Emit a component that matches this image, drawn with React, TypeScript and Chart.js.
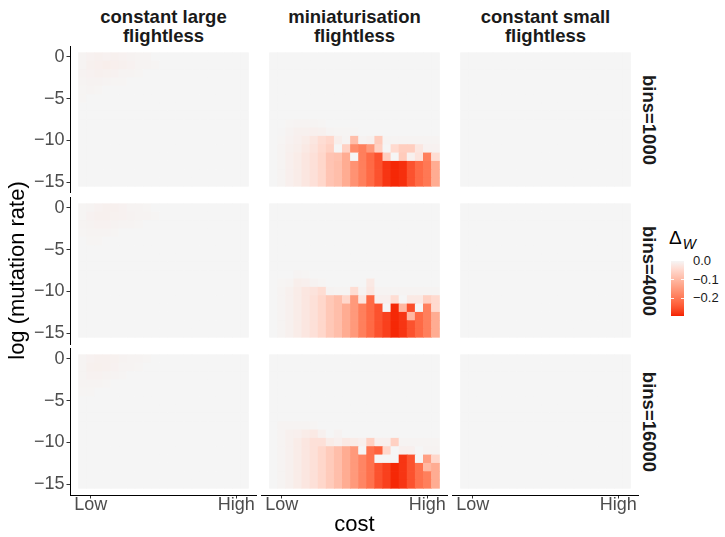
import React, { useEffect, useRef } from 'react';
import { Chart, registerables } from 'chart.js';

Chart.register(...registerables);

const FONT = '"Liberation Sans", Arial, Helvetica, sans-serif';

// ---------------- data ----------------
const costLevels = [1, 2, 3, 4, 5, 6, 7, 8, 9, 10, 11, 12, 13, 14, 15, 16, 17, 18, 19, 20, 21];
const costTickValues = [2, 20];
const costTickLabels = ['Low', 'High'];
const mutationRates = [-15, -14, -13, -12, -11, -10, -9, -8, -7, -6, -5, -4, -3, -2, -1, 0];
const mutationTicks = [0, -5, -10, -15];
const modelLabels = [
  ['constant large', 'flightless'],
  ['miniaturisation', 'flightless'],
  ['constant small', 'flightless'],
];
const binLabels = ['bins=1000', 'bins=4000', 'bins=16000'];
const fillLimits = [-0.295, 0];
const legendBreaks = [0, -0.1, -0.2];
const legendLabels = ['0.0', '\u22120.1', '\u22120.2'];

// Δw per cell; rows listed bottom-up starting at the given log mutation rate, cells Low→High cost
// constant large flightless
const largeBins1000Start = -5;
const largeBins1000 = [
  [-0.002],
  [-0.002, -0.003, -0.002],
  [-0.004, -0.005, -0.005, -0.003, -0.002, -0.002],
  [-0.005, -0.006, -0.008, -0.007, -0.006, -0.004, -0.003, -0.002],
  [-0.003, -0.008, -0.01, -0.012, -0.01, -0.008, -0.006, -0.004, -0.003, -0.002],
  [-0.004, -0.006, -0.008, -0.006, -0.008, -0.006, -0.005, -0.004, -0.003],
];
const largeBins4000Start = -4;
const largeBins4000 = [
  [0, -0.002, -0.002],
  [-0.002, -0.003, -0.004, -0.003, -0.002],
  [-0.003, -0.005, -0.006, -0.006, -0.005, -0.004, -0.003, -0.002],
  [-0.002, -0.006, -0.008, -0.008, -0.007, -0.006, -0.005, -0.004, -0.003, -0.002],
  [-0.002, -0.004, -0.006, -0.008, -0.008, -0.006, -0.004, -0.003, -0.002],
];
const largeBins16000Start = -4;
const largeBins16000 = [
  [-0.002, -0.002],
  [-0.003, -0.004, -0.003, -0.002],
  [-0.004, -0.006, -0.006, -0.005, -0.004, -0.002],
  [-0.004, -0.008, -0.009, -0.008, -0.006, -0.004, -0.003, -0.002],
  [-0.003, -0.006, -0.008, -0.008, -0.007, -0.005, -0.004, -0.003, -0.002],
];

// miniaturisation flightless
const miniBins1000Start = -15;
const miniBins1000 = [
  [0, -0.003, -0.01, -0.015, -0.025, -0.035, -0.05, -0.08, -0.09, -0.12, -0.16, -0.19, -0.22, -0.25, -0.28, -0.29, -0.285, -0.25, -0.22, -0.2, -0.12],
  [0, -0.003, -0.01, -0.015, -0.025, -0.035, -0.05, -0.08, -0.09, -0.12, -0.16, -0.19, -0.22, -0.25, -0.28, -0.29, -0.285, -0.25, -0.22, -0.2, -0.12],
  [0, -0.003, -0.01, -0.015, -0.025, -0.035, -0.05, -0.08, -0.09, -0.12, -0.16, -0.19, -0.22, -0.25, -0.28, -0.29, -0.285, -0.25, -0.22, -0.2, -0.12],
  [0, -0.003, -0.01, -0.015, -0.025, -0.035, -0.05, -0.08, -0.085, -0.12, 0, -0.19, -0.22, -0.25, -0.065, 0, -0.07, -0.008, -0.03, -0.19, -0.04],
  [0, -0.003, -0.008, -0.012, -0.02, -0.03, -0.045, -0.06, 0, -0.06, -0.17, -0.19, -0.15, -0.06, 0, -0.045, -0.065, -0.065, -0.025, -0.006, -0.006],
  [0, -0.002, -0.006, -0.01, -0.015, -0.025, -0.04, -0.05, -0.012, -0.004, -0.09, -0.005, -0.008, -0.07, -0.004, -0.003, -0.003, -0.003, -0.003, -0.003, -0.003],
  [0, -0.001, -0.005, -0.008, -0.008, -0.01, -0.008, -0.004, -0.002, -0.002, -0.002],
  [0, 0, -0.002, -0.003, -0.003, -0.003, -0.002],
];
const miniBins4000Start = -15;
const miniBins4000 = [
  [0, -0.003, -0.008, -0.015, -0.025, -0.035, -0.05, -0.075, -0.09, -0.12, -0.15, -0.19, -0.22, -0.25, -0.27, -0.29, -0.28, -0.25, -0.22, -0.19, -0.12],
  [0, -0.003, -0.008, -0.015, -0.025, -0.035, -0.05, -0.075, -0.09, -0.12, -0.15, -0.19, -0.22, -0.25, -0.27, -0.29, -0.28, -0.25, -0.22, -0.19, -0.12],
  [0, -0.003, -0.008, -0.015, -0.025, -0.035, -0.05, -0.075, -0.09, -0.12, -0.15, -0.19, -0.22, -0.25, -0.27, -0.29, -0.28, -0.1, -0.22, -0.19, -0.12],
  [0, -0.003, -0.008, -0.015, -0.025, -0.035, -0.05, -0.075, -0.09, -0.12, -0.15, -0.19, -0.22, -0.25, 0, -0.29, -0.1, -0.255, 0, -0.19, -0.045],
  [0, -0.003, -0.008, -0.015, -0.025, -0.035, -0.05, -0.075, -0.09, -0.05, -0.15, -0.025, -0.22, -0.01, -0.01, -0.04, 0, -0.02, -0.02, -0.06, -0.045],
  [0, -0.003, -0.008, -0.015, -0.025, -0.03, -0.04, -0.005, -0.003, -0.003, -0.04, -0.005, -0.025, -0.003, -0.003, -0.003, -0.003, -0.003, -0.003, -0.003, -0.003],
  [0, -0.002, -0.004, -0.012, -0.01, -0.005, -0.002, 0, 0, 0, 0, 0, -0.02],
  [0, 0, 0, -0.003, -0.002],
];
const miniBins16000Start = -15;
const miniBins16000 = [
  [0, -0.003, -0.008, -0.015, -0.025, -0.035, -0.05, -0.07, -0.09, -0.12, -0.15, -0.18, -0.21, -0.25, -0.27, -0.29, -0.28, -0.25, -0.21, -0.19, -0.12],
  [0, -0.003, -0.008, -0.015, -0.025, -0.035, -0.05, -0.07, -0.09, -0.12, -0.15, -0.18, -0.21, -0.25, -0.27, -0.29, -0.28, -0.25, -0.21, -0.19, -0.12],
  [0, -0.003, -0.008, -0.015, -0.025, -0.035, -0.05, -0.07, -0.09, -0.12, -0.15, -0.18, -0.21, -0.25, -0.27, -0.29, -0.28, -0.25, -0.21, -0.1, -0.12],
  [0, -0.003, -0.008, -0.015, -0.025, -0.035, -0.05, -0.07, -0.09, -0.12, -0.15, -0.18, -0.21, 0, 0, 0, -0.28, -0.25, 0, -0.14, -0.05],
  [0, -0.003, -0.008, -0.015, -0.025, -0.035, -0.05, -0.07, -0.09, -0.12, -0.15, 0, -0.21, -0.23, -0.05, 0, -0.01, -0.01, 0, -0.005, -0.005],
  [0, -0.003, -0.008, -0.015, -0.025, -0.035, -0.035, -0.015, -0.01, -0.02, -0.015, -0.01, -0.06, -0.01, -0.01, -0.06, -0.003, -0.003, -0.003, -0.003, -0.003],
  [0, -0.003, -0.008, -0.01, -0.015, -0.02, -0.008, 0, -0.005],
  [0, -0.003, -0.004, -0.003, -0.003, -0.002],
];

// constant small flightless (no change)
const smallBins1000Start = 0;
const smallBins1000: number[][] = [];
const smallBins4000Start = 0;
const smallBins4000: number[][] = [];
const smallBins16000Start = 0;
const smallBins16000: number[][] = [];

// ---------------- helpers ----------------
function buildGrid(start: number, rows: number[][]): number[][] {
  return mutationRates.map((m) => {
    const row = rows[m - start] || [];
    return costLevels.map((_, ci) => (row[ci] === undefined ? 0 : row[ci]));
  });
}

const panelGrids = [
  [buildGrid(largeBins1000Start, largeBins1000), buildGrid(miniBins1000Start, miniBins1000), buildGrid(smallBins1000Start, smallBins1000)],
  [buildGrid(largeBins4000Start, largeBins4000), buildGrid(miniBins4000Start, miniBins4000), buildGrid(smallBins4000Start, smallBins4000)],
  [buildGrid(largeBins16000Start, largeBins16000), buildGrid(miniBins16000Start, miniBins16000), buildGrid(smallBins16000Start, smallBins16000)],
];

const HIGH_COLOR = [245, 245, 245];
const LOW_COLOR = [244, 32, 0];

function toLin(c: number) {
  c /= 255;
  return c <= 0.04045 ? c / 12.92 : Math.pow((c + 0.055) / 1.055, 2.4);
}
function fromLin(c: number) {
  const v = c <= 0.0031308 ? 12.92 * c : 1.055 * Math.pow(c, 1 / 2.4) - 0.055;
  return Math.round(Math.max(0, Math.min(1, v)) * 255);
}
function rgbToLab(rgb: number[]) {
  const R = toLin(rgb[0]), G = toLin(rgb[1]), B = toLin(rgb[2]);
  const X = (0.4124 * R + 0.3576 * G + 0.1805 * B) / 0.95047;
  const Y = 0.2126 * R + 0.7152 * G + 0.0722 * B;
  const Z = (0.0193 * R + 0.1192 * G + 0.9505 * B) / 1.08883;
  const f = (t: number) => (t > 0.008856 ? Math.cbrt(t) : 7.787 * t + 16 / 116);
  const fx = f(X), fy = f(Y), fz = f(Z);
  return [116 * fy - 16, 500 * (fx - fy), 200 * (fy - fz)];
}
function labToRgb(lab: number[]) {
  const fy = (lab[0] + 16) / 116;
  const fx = fy + lab[1] / 500;
  const fz = fy - lab[2] / 200;
  const inv = (t: number) => (t * t * t > 0.008856 ? t * t * t : (t - 16 / 116) / 7.787);
  const X = inv(fx) * 0.95047, Y = inv(fy), Z = inv(fz) * 1.08883;
  const R = 3.2406 * X - 1.5372 * Y - 0.4986 * Z;
  const G = -0.9689 * X + 1.8758 * Y + 0.0415 * Z;
  const B = 0.0557 * X - 0.204 * Y + 1.057 * Z;
  return [fromLin(R), fromLin(G), fromLin(B)];
}
const HIGH_LAB = rgbToLab(HIGH_COLOR);
const LOW_LAB = rgbToLab(LOW_COLOR);
function fillColor(v: number) {
  let t = (fillLimits[1] - v) / (fillLimits[1] - fillLimits[0]);
  t = Math.max(0, Math.min(1, t));
  const lab = HIGH_LAB.map((h, i) => h + (LOW_LAB[i] - h) * t);
  const c = labToRgb(lab);
  return `rgb(${c[0]},${c[1]},${c[2]})`;
}

// ---------------- layout ----------------
const panelLefts = [70, 261, 452];
const panelWidth = 187;
const panelTops = [46, 197, 348];
const panelHeight = 147;
const pageHeight = 537;

function fmtMinus(v: number) {
  return v < 0 ? '\u2212' + Math.abs(v) : String(v);
}

function Panel({ row, col }: { row: number; col: number }) {
  const ref = useRef<HTMLCanvasElement>(null);
  const isLeft = col === 0;
  const isBottom = row === 2;
  const hasYTitle = isLeft && row === 1;
  const ext = hasYTitle ? 60 : 0; // extra room so the long y title is not clipped
  const left = isLeft ? 0 : panelLefts[col];
  const width = panelLefts[col] + panelWidth - left;
  const top = panelTops[row] - ext;
  const xAxisHeight = isBottom ? pageHeight - (panelTops[2] + panelHeight) : 0;
  const height = panelHeight + xAxisHeight + 2 * ext;
  const yAxisWidth = isLeft ? panelLefts[0] : 0;

  useEffect(() => {
    const grid = panelGrids[row][col];
    const datasets = mutationRates.map((m, ri) => ({
      label: 'log mutation rate ' + m,
      data: costLevels.map((c) => ({ x: c, y: [m - 0.5, m + 0.5] })),
      backgroundColor: costLevels.map((_, ci) => fillColor(grid[ri][ci])),
      borderWidth: 0,
      grouped: false,
      barPercentage: 1,
      categoryPercentage: 1,
    }));
    const chart = new Chart(ref.current as HTMLCanvasElement, {
      type: 'bar',
      data: { datasets: datasets as any },
      options: {
        responsive: false,
        maintainAspectRatio: false,
        animation: false,
        devicePixelRatio: 1,
        layout: { padding: { top: ext, bottom: ext, left: 0, right: 0 } },
        plugins: { legend: { display: false }, tooltip: { enabled: false }, title: { display: false } },
        scales: {
          x: {
            type: 'linear',
            min: -0.55,
            max: 22.55,
            offset: false,
            display: isBottom,
            afterBuildTicks: (s: any) => {
              s.ticks = costTickValues.map((v) => ({ value: v }));
            },
            afterFit: (s: any) => {
              s.height = xAxisHeight;
              s.paddingLeft = 0;
              s.paddingRight = 0;
            },
            grid: { display: true, offset: false, drawOnChartArea: false, drawTicks: true, tickLength: 3.5, color: '#333333', lineWidth: 1 },
            border: { display: true, color: '#000000', width: 1 },
            ticks: {
              autoSkip: false,
              maxRotation: 0,
              minRotation: 0,
              padding: -4,
              color: '#4D4D4D',
              font: { family: FONT, size: 18 },
              callback: (v: any) => {
                const i = costTickValues.indexOf(Number(v));
                return i >= 0 ? costTickLabels[i] : '';
              },
            },
            title: {
              display: isBottom && col === 1,
              text: 'cost',
              color: '#000000',
              font: { family: FONT, size: 22, lineHeight: 1.14 },
              padding: { top: 0, bottom: 0 },
            },
          },
          y: {
            type: 'linear',
            min: -16.3,
            max: 1.3,
            display: isLeft,
            afterBuildTicks: (s: any) => {
              s.ticks = mutationTicks.map((v) => ({ value: v }));
            },
            afterFit: (s: any) => {
              s.width = yAxisWidth;
              s.paddingTop = 0;
              s.paddingBottom = 0;
            },
            grid: { display: true, offset: false, drawOnChartArea: false, drawTicks: true, tickLength: 3.5, color: '#333333', lineWidth: 1 },
            border: { display: true, color: '#000000', width: 1 },
            ticks: {
              padding: 2,
              color: '#4D4D4D',
              font: { family: FONT, size: 18 },
              callback: (v: any) => fmtMinus(Number(v)),
            },
            title: {
              display: hasYTitle,
              text: 'log (mutation rate)',
              color: '#000000',
              font: { family: FONT, size: 22, lineHeight: 1.14 },
              padding: { top: 5.5, bottom: 0 },
            },
          },
        },
      } as any,
    });
    return () => chart.destroy();
  }, [row, col]);

  return (
    <canvas
      ref={ref}
      width={width}
      height={height}
      style={{ position: 'absolute', left, top, width, height, display: 'block' }}
    />
  );
}

function Legend() {
  const barLeft = 671;
  const barTop = 261;
  const barW = 13;
  const barH = 55;
  const stops: string[] = [];
  for (let i = 0; i <= 20; i++) {
    const v = fillLimits[1] - ((fillLimits[1] - fillLimits[0]) * i) / 20;
    stops.push(`${fillColor(v)} ${(i / 20) * 100}%`);
  }
  const yFor = (v: number) => barTop + ((fillLimits[1] - v) / (fillLimits[1] - fillLimits[0])) * barH;
  return (
    <>
      <div
        style={{
          position: 'absolute',
          left: 669,
          top: 228,
          fontFamily: FONT,
          fontSize: 19,
          lineHeight: '19px',
          color: '#000',
          whiteSpace: 'nowrap',
        }}
      >
        {'\u0394'}
        <span style={{ fontStyle: 'italic', fontSize: 14, position: 'relative', top: 5, marginLeft: 1 }}>W</span>
      </div>
      <div
        style={{
          position: 'absolute',
          left: barLeft,
          top: barTop,
          width: barW,
          height: barH,
          background: `linear-gradient(to bottom, ${stops.join(', ')})`,
        }}
      />
      {legendBreaks.map((b, i) => {
        const y = yFor(b);
        return (
          <React.Fragment key={i}>
            {i > 0 && (
              <>
                <div style={{ position: 'absolute', left: barLeft, top: y - 0.5, width: 2.6, height: 1, background: 'rgba(255,255,255,0.9)' }} />
                <div style={{ position: 'absolute', left: barLeft + barW - 2.6, top: y - 0.5, width: 2.6, height: 1, background: 'rgba(255,255,255,0.9)' }} />
              </>
            )}
            <div
              style={{
                position: 'absolute',
                left: 693,
                top: y - 7,
                height: 14,
                lineHeight: '14px',
                fontFamily: FONT,
                fontSize: 13,
                color: '#1A1A1A',
                whiteSpace: 'nowrap',
              }}
            >
              {legendLabels[i]}
            </div>
          </React.Fragment>
        );
      })}
    </>
  );
}

export default function App() {
  return (
    <div style={{ position: 'absolute', left: 0, top: 0, width: 725, height: 537, background: '#fff', overflow: 'hidden' }}>
      {modelLabels.map((lines, c) => (
        <div
          key={'strip' + c}
          style={{
            position: 'absolute',
            left: panelLefts[c],
            top: 6.6,
            width: panelWidth,
            textAlign: 'center',
            fontFamily: FONT,
            fontWeight: 'bold',
            fontSize: 18.5,
            lineHeight: '19px',
            color: '#1A1A1A',
          }}
        >
          {lines.map((l, i) => (
            <div key={i}>{l}</div>
          ))}
        </div>
      ))}
      {binLabels.map((b, r) => (
        <div
          key={'bin' + r}
          style={{
            position: 'absolute',
            left: 649,
            top: panelTops[r] + panelHeight / 2,
            transform: 'translate(-50%, -50%) rotate(90deg)',
            fontFamily: FONT,
            fontWeight: 'bold',
            fontSize: 18.5,
            lineHeight: '18.5px',
            color: '#1A1A1A',
            whiteSpace: 'nowrap',
          }}
        >
          {b}
        </div>
      ))}
      {[0, 1, 2].map((r) => [0, 1, 2].map((c) => <Panel key={r + '-' + c} row={r} col={c} />))}
      <Legend />
    </div>
  );
}
